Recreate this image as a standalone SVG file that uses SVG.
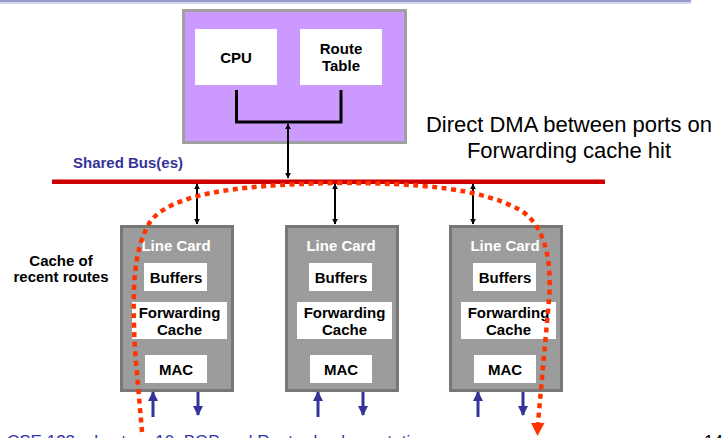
<svg xmlns="http://www.w3.org/2000/svg" width="723" height="438" viewBox="0 0 723 438">
<defs>
<style>
.b{font-family:"Liberation Sans",Arial,sans-serif;font-weight:bold;font-size:15px;text-anchor:middle;fill:#000}
.w{fill:#ffffff}
.card{fill:#9c9c9c;stroke:#777777;stroke-width:3}
.box{fill:#ffffff}
.blk{stroke:#000;stroke-width:2;fill:none}
.blu{stroke:#333399;stroke-width:3;fill:none}
</style>
<marker id="ah" viewBox="0 0 10 10" refX="9" refY="5" markerWidth="6" markerHeight="6" orient="auto-start-reverse" markerUnits="userSpaceOnUse">
<path d="M0,0 L10,5 L0,10 z" fill="#000"/>
</marker>
<marker id="bh" viewBox="0 0 10 10" refX="9" refY="5" markerWidth="10" markerHeight="10" orient="auto" markerUnits="userSpaceOnUse">
<path d="M0,0 L10,5 L0,10 z" fill="#333399"/>
</marker>
</defs>
<rect x="0" y="0" width="691" height="2" fill="#9a9ad0"/>
<rect x="0" y="2" width="691" height="2" fill="#d4d4ec"/>

<g id="router">
<rect x="183.5" y="10.5" width="222" height="132" fill="#cc99ff" stroke="#a0a0a0" stroke-width="3"/>
<rect class="box" x="195" y="29" width="82" height="56"/>
<text class="b" x="236" y="63">CPU</text>
<rect class="box" x="300" y="29" width="82" height="56"/>
<text class="b" x="341" y="54">Route</text>
<text class="b" x="341" y="71">Table</text>
<path d="M236.5,90 V122 H341 V90" stroke="#000" stroke-width="3" fill="none"/>
</g>

<g id="bus">
<rect x="52" y="179.5" width="553" height="4.5" fill="#cc0000"/>
<text x="73" y="168" font-family="Liberation Sans,Arial,sans-serif" font-weight="bold" font-size="15" fill="#333399">Shared Bus(es)</text>
</g>

<g id="note">
<text x="569" y="132" font-family="Liberation Sans,Arial,sans-serif" font-size="22" text-anchor="middle" fill="#000">Direct DMA between ports on</text>
<text x="569" y="158" font-family="Liberation Sans,Arial,sans-serif" font-size="22" text-anchor="middle" fill="#000">Forwarding cache hit</text>
</g>

<g id="cache-label">
<text class="b" x="61" y="266">Cache of</text>
<text class="b" x="61" y="282">recent routes</text>
</g>

<g id="card1">
<rect class="card" x="121.5" y="226.5" width="111" height="164"/>
<text class="b w" x="176" y="251">Line Card</text>
<rect class="box" x="144" y="263" width="63" height="28"/>
<text class="b" x="176" y="283">Buffers</text>
<rect class="box" x="132" y="302" width="95" height="37"/>
<text class="b" x="179.5" y="318">Forwarding</text>
<text class="b" x="179.5" y="335">Cache</text>
<rect class="box" x="145" y="355" width="62" height="28"/>
<text class="b" x="176" y="375">MAC</text>
</g>

<g id="card2">
<rect class="card" x="286.5" y="226.5" width="111" height="164"/>
<text class="b w" x="341" y="251">Line Card</text>
<rect class="box" x="309" y="263" width="63" height="28"/>
<text class="b" x="341" y="283">Buffers</text>
<rect class="box" x="297" y="302" width="95" height="37"/>
<text class="b" x="344.5" y="318">Forwarding</text>
<text class="b" x="344.5" y="335">Cache</text>
<rect class="box" x="310" y="355" width="62" height="28"/>
<text class="b" x="341" y="375">MAC</text>
</g>

<g id="card3">
<rect class="card" x="450.5" y="226.5" width="111" height="164"/>
<text class="b w" x="505" y="251">Line Card</text>
<rect class="box" x="473" y="263" width="63" height="28"/>
<text class="b" x="505" y="283">Buffers</text>
<rect class="box" x="461" y="302" width="95" height="37"/>
<text class="b" x="508.5" y="318">Forwarding</text>
<text class="b" x="508.5" y="335">Cache</text>
<rect class="box" x="474" y="355" width="62" height="28"/>
<text class="b" x="505" y="375">MAC</text>
</g>

<g id="connectors">
<line class="blk" x1="288" y1="178" x2="288" y2="124" marker-start="url(#ah)" marker-end="url(#ah)"/>
<line class="blk" x1="197" y1="184" x2="197" y2="224" marker-start="url(#ah)" marker-end="url(#ah)"/>
<line class="blk" x1="335" y1="184" x2="335" y2="224" marker-start="url(#ah)" marker-end="url(#ah)"/>
<line class="blk" x1="473" y1="184" x2="473" y2="224" marker-start="url(#ah)" marker-end="url(#ah)"/>
<line class="blu" x1="153" y1="417" x2="153" y2="392" marker-end="url(#bh)"/>
<line class="blu" x1="198" y1="392" x2="198" y2="415" marker-end="url(#bh)"/>
<line class="blu" x1="318" y1="417" x2="318" y2="392" marker-end="url(#bh)"/>
<line class="blu" x1="363" y1="392" x2="363" y2="415" marker-end="url(#bh)"/>
<line class="blu" x1="478" y1="417" x2="478" y2="392" marker-end="url(#bh)"/>
<line class="blu" x1="523" y1="392" x2="523" y2="415" marker-end="url(#bh)"/>
<path d="M142,432 L135,350 C132,290 133,250 150,222 C170,195 230,185 335,183 C420,183 480,188 520,210 C545,225 552,260 549,300 L538,423" fill="none" stroke="#ff3300" stroke-width="4.5" stroke-dasharray="5 4.5"/>
<polygon points="531,423 544.5,423 537.5,436" fill="#ff3300"/>
</g>

<g id="footer">
<text x="7" y="447" font-family="Liberation Sans,Arial,sans-serif" font-size="17" fill="#3333aa">CSE 123 – Lecture 10: BGP and Router Implementation</text>
<text x="723" y="447" font-family="Liberation Sans,Arial,sans-serif" font-size="17" text-anchor="end" fill="#000">14</text>
</g>
</svg>
